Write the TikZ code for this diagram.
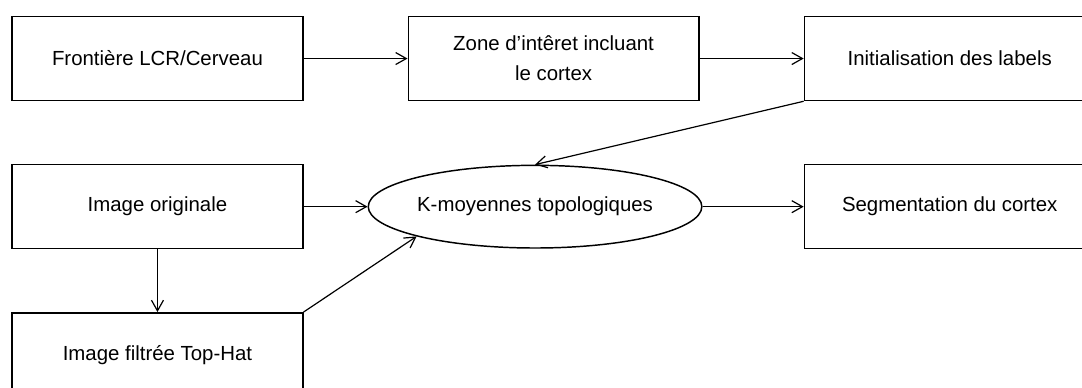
\documentclass[tikz,border=0pt]{standalone}
\usepackage{fontspec}
\setmainfont{Liberation Sans}
\usetikzlibrary{shapes.geometric, arrows.meta, positioning}

\begin{document}
\begin{tikzpicture}[
    node distance=47pt and 78pt,
    box/.style={rectangle, draw, line width=1.1pt, minimum width=218pt,
                minimum height=63pt, align=center,
                font=\fontsize{15.3pt}{22.5pt}\selectfont},
    oval/.style={ellipse, draw, line width=1.1pt, inner sep=0pt, minimum width=248pt,
                 minimum height=62pt, font=\fontsize{15.3pt}{22.5pt}\selectfont},
    arr/.style={-{Straight Barb[length=8pt, width=9pt]}, line width=0.9pt},
]
    \useasboundingbox (-118.1pt,43.9pt) rectangle (693.4pt,-246.4pt);
    \clip (-118.1pt,43.9pt) rectangle (693.4pt,-246.4pt);

    \node[box] (lcr)    {Frontière LCR/Cerveau};
    \node[box, right=of lcr]  (zone)   {Zone d’intêret incluant\\le cortex};
    \node[box, right=of zone] (init)   {Initialisation des labels};
    \node[box, below=of lcr]  (orig)   {Image originale};
    \node[oval, right=48pt of orig] (kmoy) {K-moyennes topologiques};
    \node[box, below=of init] (seg)    {Segmentation du cortex};
    \node[box, below=of orig] (tophat) {Image filtrée Top-Hat};

    \draw[arr] (lcr)  -- (zone);
    \draw[arr] (zone) -- (init);
    \draw[arr] (init.south west) -- (kmoy.north);
    \draw[arr] (orig) -- (kmoy);
    \draw[arr] (kmoy) -- (seg);
    \draw[arr] (orig) -- (tophat);
    \draw[arr] (tophat.north east) -- (kmoy.south west);
\end{tikzpicture}
\end{document}
